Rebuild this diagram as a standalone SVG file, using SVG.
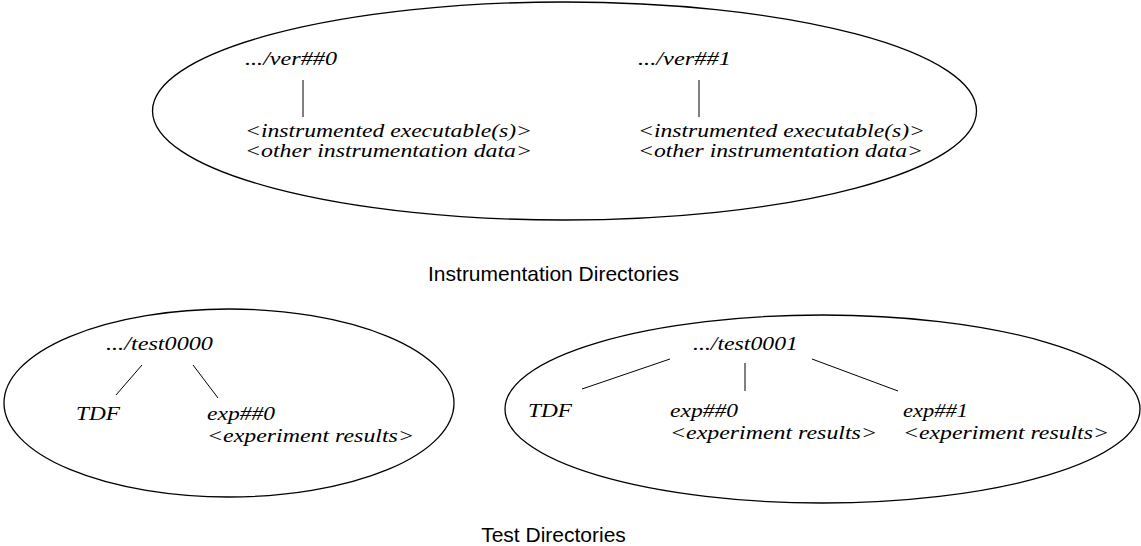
<svg xmlns="http://www.w3.org/2000/svg" width="1141" height="546" viewBox="0 0 1141 546">
<style>
.bg{fill:#ffffff}
.oval{fill:none;stroke:#000;stroke-width:1.3}
.it{font-family:"Liberation Serif","Times New Roman",serif;font-style:italic;font-size:18.5px;fill:#000}
.cap{font-family:"Liberation Sans",Arial,sans-serif;font-size:21px;fill:#000;text-anchor:middle}
.conn line{stroke:#000;stroke-width:1}
</style>
<rect class="bg" x="0" y="0" width="1141" height="546"/>
<g id="instrumentation-area">
<ellipse class="oval" cx="564.5" cy="111" rx="412" ry="109"/>
</g>
<g id="test0000-area">
<ellipse class="oval" cx="229" cy="403" rx="225" ry="94"/>
</g>
<g id="test0001-area">
<ellipse class="oval" cx="822.5" cy="409" rx="317.5" ry="94"/>
</g>
<g id="connectors" class="conn">
<line x1="303" y1="80" x2="303" y2="117"/>
<line x1="699" y1="80" x2="699" y2="117"/>
<line x1="142" y1="365" x2="116" y2="395"/>
<line x1="193" y1="365" x2="218" y2="398"/>
<line x1="670" y1="359" x2="582" y2="389"/>
<line x1="745" y1="363" x2="745" y2="391"/>
<line x1="812" y1="359" x2="898" y2="391"/>
</g>
<g id="ver0"><text class="it" x="245" y="65" textLength="92" lengthAdjust="spacingAndGlyphs">.../ver##0</text></g>
<g id="ver0-contents"><text class="it" x="245" y="137" textLength="287" lengthAdjust="spacingAndGlyphs">&lt;instrumented executable(s)&gt;</text><text class="it" x="245" y="157" textLength="287" lengthAdjust="spacingAndGlyphs">&lt;other instrumentation data&gt;</text></g>
<g id="ver1"><text class="it" x="638" y="65" textLength="93" lengthAdjust="spacingAndGlyphs">.../ver##1</text></g>
<g id="ver1-contents"><text class="it" x="638" y="137" textLength="287" lengthAdjust="spacingAndGlyphs">&lt;instrumented executable(s)&gt;</text><text class="it" x="638" y="157" textLength="285" lengthAdjust="spacingAndGlyphs">&lt;other instrumentation data&gt;</text></g>
<g id="label-instrumentation"><text class="cap" x="553.5" y="281">Instrumentation Directories</text></g>
<g id="test0000"><text class="it" x="106" y="350" textLength="107" lengthAdjust="spacingAndGlyphs">.../test0000</text></g>
<g id="tdf0"><text class="it" x="76" y="420" textLength="44" lengthAdjust="spacingAndGlyphs">TDF</text></g>
<g id="test0000-exp0"><text class="it" x="207" y="420" textLength="68" lengthAdjust="spacingAndGlyphs">exp##0</text><text class="it" x="207" y="442" textLength="207" lengthAdjust="spacingAndGlyphs">&lt;experiment results&gt;</text></g>
<g id="test0001"><text class="it" x="693" y="350" textLength="105" lengthAdjust="spacingAndGlyphs">.../test0001</text></g>
<g id="tdf1"><text class="it" x="528" y="417" textLength="44" lengthAdjust="spacingAndGlyphs">TDF</text></g>
<g id="test0001-exp0"><text class="it" x="670" y="417" textLength="68" lengthAdjust="spacingAndGlyphs">exp##0</text><text class="it" x="670" y="439" textLength="207" lengthAdjust="spacingAndGlyphs">&lt;experiment results&gt;</text></g>
<g id="test0001-exp1"><text class="it" x="903" y="417" textLength="65" lengthAdjust="spacingAndGlyphs">exp##1</text><text class="it" x="903" y="439" textLength="206" lengthAdjust="spacingAndGlyphs">&lt;experiment results&gt;</text></g>
<g id="label-test"><text class="cap" x="553.5" y="542">Test Directories</text></g>
</svg>
